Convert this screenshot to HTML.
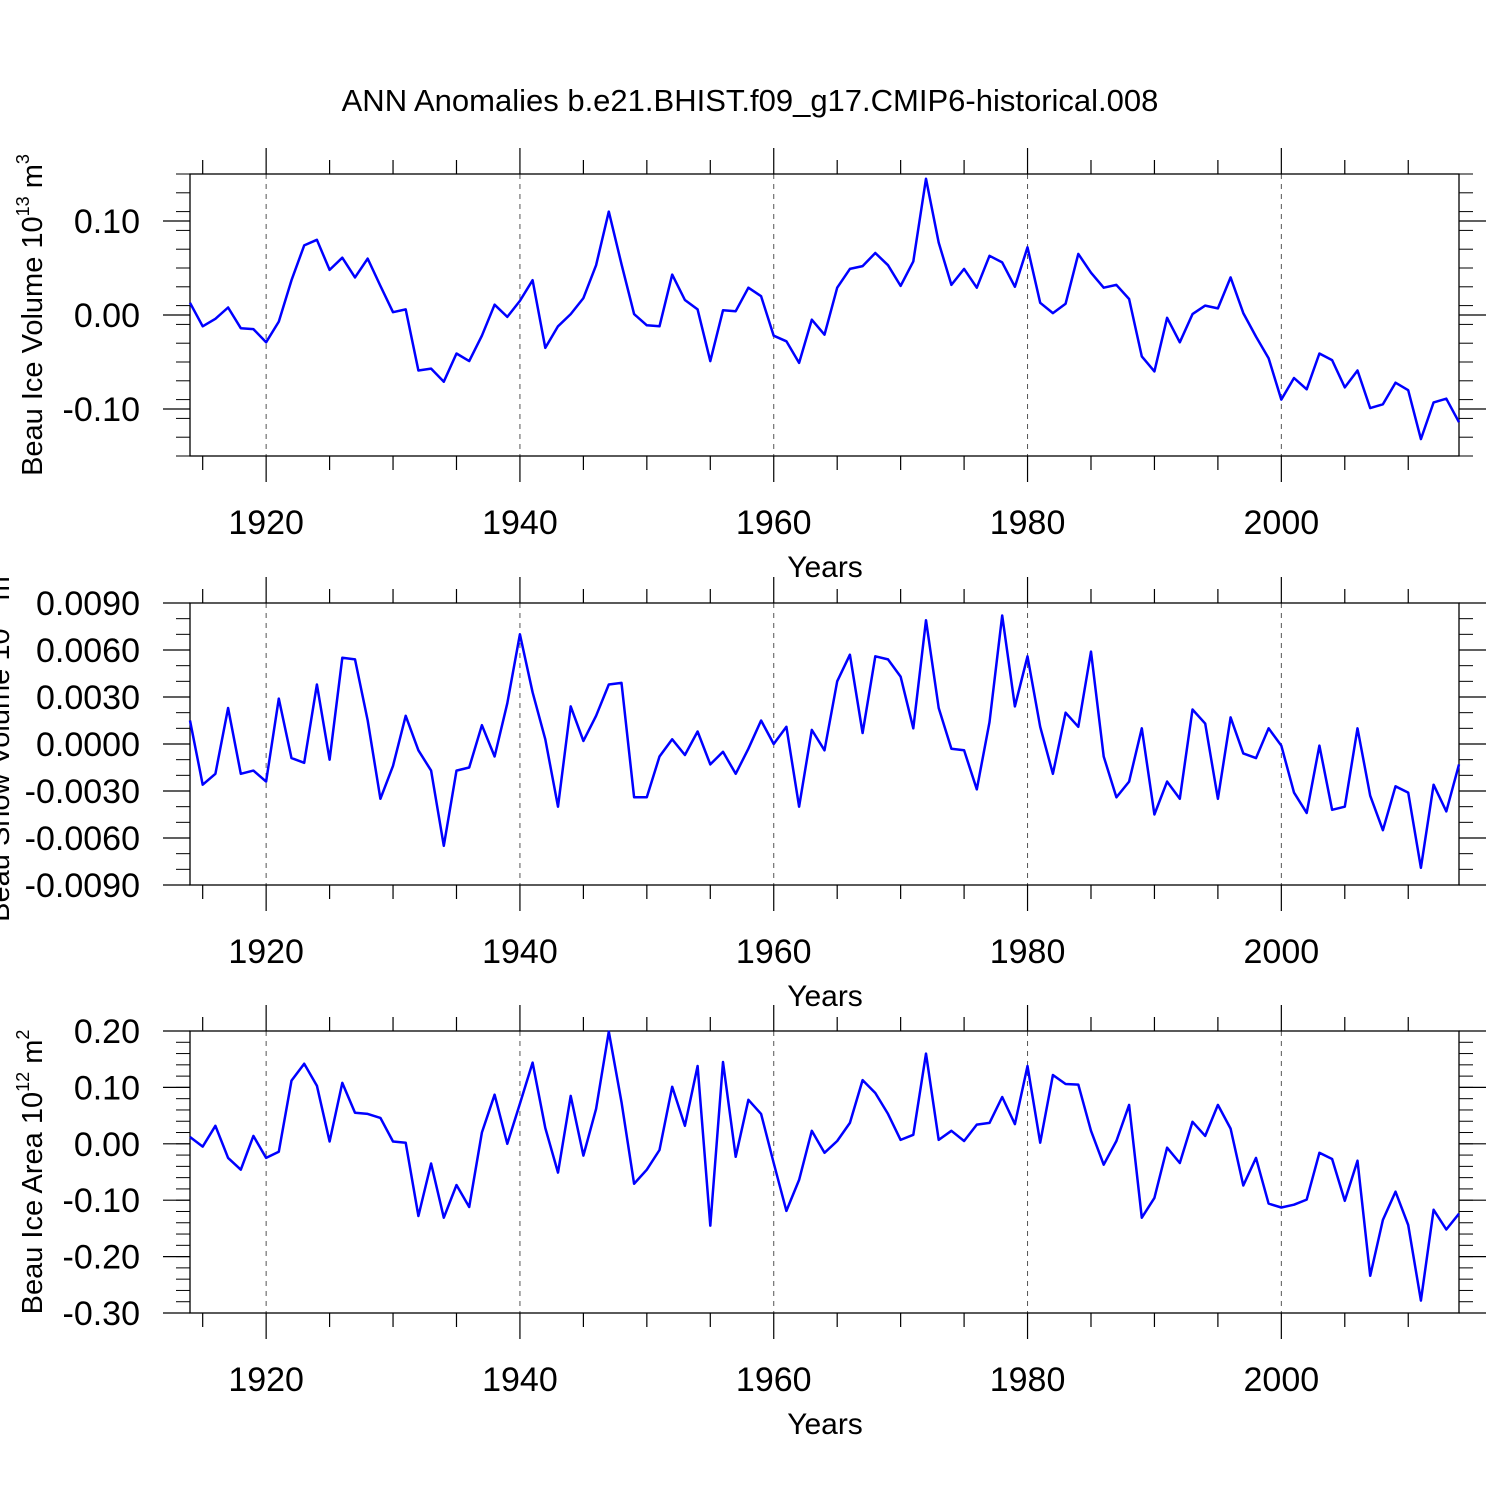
<!DOCTYPE html>
<html><head><meta charset="utf-8"><style>
html,body{margin:0;padding:0;background:#fff;width:1500px;height:1500px;overflow:hidden}
svg{display:block;font-family:"Liberation Sans",Helvetica,sans-serif}
</style></head><body>
<svg id="chart" width="1500" height="1500" viewBox="0 0 1500 1500">
<text x="750" y="111" text-anchor="middle" font-size="31">ANN Anomalies b.e21.BHIST.f09_g17.CMIP6-historical.008</text>
</svg>
<script>
const years = [];
for (let y = 1914; y <= 2014; y++) years.push(y);
const xTickLabels = ["1920","1940","1960","1980","2000"];
const volValues = [0.013,-0.012,-0.004,0.008,-0.014,-0.015,-0.029,-0.007,0.037,0.074,0.080,0.048,0.061,0.040,0.060,0.031,0.003,0.006,-0.059,-0.057,-0.071,-0.041,-0.049,-0.022,0.011,-0.002,0.015,0.037,-0.035,-0.012,0.001,0.018,0.053,0.110,0.054,0.001,-0.011,-0.012,0.043,0.016,0.006,-0.049,0.005,0.004,0.029,0.020,-0.022,-0.028,-0.051,-0.005,-0.021,0.029,0.049,0.052,0.066,0.053,0.031,0.057,0.145,0.077,0.032,0.049,0.029,0.063,0.056,0.030,0.072,0.013,0.002,0.012,0.065,0.045,0.029,0.032,0.017,-0.044,-0.060,-0.003,-0.029,0.001,0.010,0.007,0.040,0.002,-0.023,-0.046,-0.090,-0.067,-0.079,-0.041,-0.048,-0.077,-0.059,-0.099,-0.095,-0.072,-0.080,-0.132,-0.093,-0.089,-0.114];
const snowValues = [0.0015,-0.0026,-0.0019,0.0023,-0.0019,-0.0017,-0.0024,0.0029,-0.0009,-0.0012,0.0038,-0.0010,0.0055,0.0054,0.0015,-0.0035,-0.0014,0.0018,-0.0004,-0.0017,-0.0065,-0.0017,-0.0015,0.0012,-0.0008,0.0026,0.0070,0.0033,0.0003,-0.0040,0.0024,0.0002,0.0018,0.0038,0.0039,-0.0034,-0.0034,-0.0008,0.0003,-0.0007,0.0008,-0.0013,-0.0005,-0.0019,-0.0003,0.0015,0.0000,0.0011,-0.0040,0.0009,-0.0004,0.0040,0.0057,0.0007,0.0056,0.0054,0.0043,0.0010,0.0079,0.0023,-0.0003,-0.0004,-0.0029,0.0014,0.0082,0.0024,0.0056,0.0011,-0.0019,0.0020,0.0011,0.0059,-0.0008,-0.0034,-0.0024,0.0010,-0.0045,-0.0024,-0.0035,0.0022,0.0013,-0.0035,0.0017,-0.0006,-0.0009,0.0010,-0.0001,-0.0031,-0.0044,-0.0001,-0.0042,-0.0040,0.0010,-0.0033,-0.0055,-0.0027,-0.0031,-0.0079,-0.0026,-0.0043,-0.0013];
const areaValues = [0.012,-0.005,0.032,-0.025,-0.046,0.014,-0.025,-0.014,0.112,0.142,0.103,0.004,0.108,0.055,0.053,0.046,0.004,0.002,-0.128,-0.035,-0.131,-0.073,-0.112,0.020,0.087,0.000,0.071,0.144,0.028,-0.051,0.085,-0.021,0.062,0.199,0.074,-0.071,-0.046,-0.011,0.101,0.032,0.138,-0.145,0.145,-0.023,0.078,0.053,-0.034,-0.119,-0.064,0.023,-0.016,0.005,0.037,0.113,0.090,0.053,0.007,0.016,0.160,0.007,0.023,0.005,0.034,0.037,0.083,0.035,0.138,0.002,0.122,0.106,0.105,0.023,-0.037,0.005,0.069,-0.131,-0.096,-0.007,-0.034,0.039,0.014,0.069,0.027,-0.074,-0.025,-0.106,-0.113,-0.108,-0.099,-0.016,-0.027,-0.101,-0.030,-0.234,-0.135,-0.085,-0.144,-0.278,-0.117,-0.152,-0.124];
const volTicks = ["0.10","0.00","-0.10"];
const snowTicks = ["0.0090","0.0060","0.0030","0.0000","-0.0030","-0.0060","-0.0090"];
const areaTicks = ["0.20","0.10","0.00","-0.10","-0.20","-0.30"];

const NS = "http://www.w3.org/2000/svg";
const svg = document.getElementById("chart");
const X0 = 190, X1 = 1459, YR0 = 1914, YR1 = 2014;
const xs = y => X0 + (y - YR0) / (YR1 - YR0) * (X1 - X0);
function mk(tag, attrs, parent) {
  const e = document.createElementNS(NS, tag);
  for (const k in attrs) e.setAttribute(k, attrs[k]);
  (parent || svg).appendChild(e);
  return e;
}
function panel(name, top, vmin, vmax, ticks, minorStep, values, label, labelX, sup1, sup2) {
  const bot = top + 282;
  const g = mk("g", {});
  
  
  const ys = v => bot - (v - vmin) / (vmax - vmin) * (bot - top);
  xTickLabels.forEach(t => {
    const x = xs(+t);
    const l = mk("line", {x1:x, x2:x, y1:top, y2:bot, stroke:"#555", "stroke-width":1, "stroke-dasharray":"5,5"}, g);
    
    
  });
  for (let y = 1915; y <= 2010; y += 5) {
    const x = xs(y), major = y % 20 === 0, len = major ? 26 : 14;
    mk("line", {x1:x, x2:x, y1:top, y2:top - len, stroke:"#000", "stroke-width":1.2}, g);
    mk("line", {x1:x, x2:x, y1:bot, y2:bot + len, stroke:"#000", "stroke-width":1.2}, g);
  }
  xTickLabels.forEach(t => {
    const tx = mk("text", {x:xs(+t), y:bot + 78, "text-anchor":"middle", "font-size":34}, g);
    tx.textContent = t;
    
    
  });
  const xt = mk("text", {x:825, y:bot + 121, "text-anchor":"middle", "font-size":30}, g);
  xt.textContent = "Years";
  
  
  const nMin = Math.round((vmax - vmin) / minorStep);
  for (let i = 0; i <= nMin; i++) {
    const y = ys(vmin + i * minorStep);
    mk("line", {x1:X0, x2:X0 - 14, y1:y, y2:y, stroke:"#000", "stroke-width":1}, g);
    mk("line", {x1:X1, x2:X1 + 14, y1:y, y2:y, stroke:"#000", "stroke-width":1}, g);
  }
  ticks.forEach(t => {
    const y = ys(parseFloat(t));
    mk("line", {x1:X0, x2:X0 - 27, y1:y, y2:y, stroke:"#000", "stroke-width":1.2}, g);
    mk("line", {x1:X1, x2:X1 + 27, y1:y, y2:y, stroke:"#000", "stroke-width":1.2}, g);
    const tx = mk("text", {x:140, y:y + 12, "text-anchor":"end", "font-size":34}, g);
    tx.textContent = t;
    
    
  });
  const fr = mk("rect", {x:X0, y:top, width:X1 - X0, height:bot - top, fill:"none", stroke:"#000", "stroke-width":1.3}, g);
  
  
  const cy = (top + bot) / 2;
  const lab = mk("text", {transform:"translate(" + labelX + "," + cy + ") rotate(-90)", "text-anchor":"middle", "font-size":29}, g);
  
  
  const t1 = mk("tspan", {}, lab); t1.textContent = label + " 10";
  const t2 = mk("tspan", {dy:-13, "font-size":18}, lab); t2.textContent = sup1;
  const t3 = mk("tspan", {dy:13}, lab); t3.textContent = " m";
  const t4 = mk("tspan", {dy:-13, "font-size":18}, lab); t4.textContent = sup2;
  const pts = values.map((v, i) => xs(years[i]).toFixed(1) + "," + ys(v).toFixed(1)).join(" ");
  const pl = mk("polyline", {points:pts, fill:"none", stroke:"#0000ff", "stroke-width":2.5, "stroke-linejoin":"round"}, g);
  
  
}
panel("ice-volume", 174, -0.15, 0.15, volTicks, 0.02, volValues, "Beau Ice Volume", 42, "13", "3");
panel("snow-volume", 603, -0.009, 0.009, snowTicks, 0.001, snowValues, "Beau Snow Volume", 9, "13", "3");
panel("ice-area", 1031, -0.30, 0.20, areaTicks, 0.02, areaValues, "Beau Ice Area", 42, "12", "2");
</script>
</body></html>
